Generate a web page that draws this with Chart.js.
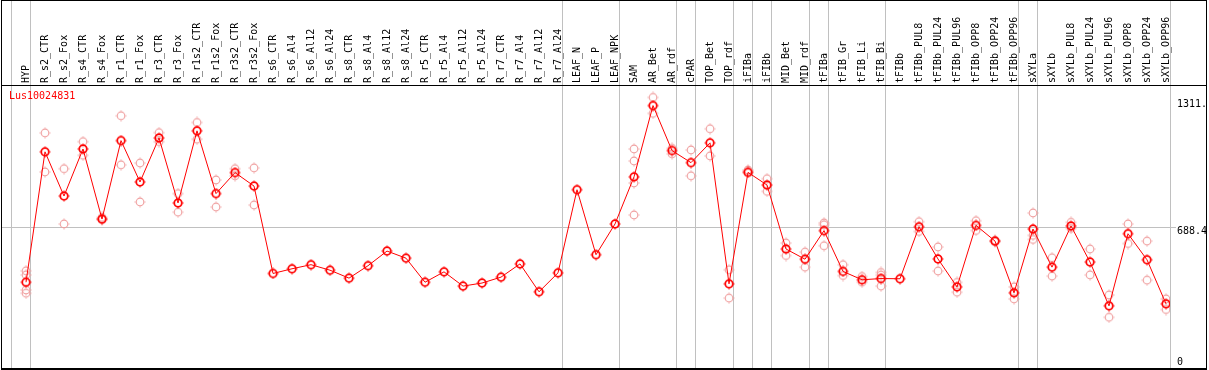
<!DOCTYPE html>
<html>
<head>
<meta charset="utf-8">
<script src="https://cdn.jsdelivr.net/npm/chart.js@4.4.0/dist/chart.umd.min.js"></script>
<style>
  html, body { margin: 0; padding: 0; background: #fff; }
  canvas { display: block; }
</style>
</head>
<body>
<canvas id="chart" width="1209" height="370"></canvas>
<script>
const geneName = 'Lus10024831';

const categories = [
  'HYP', 'R_s2_CTR', 'R_s2_Fox', 'R_s4_CTR', 'R_s4_Fox', 'R_r1_CTR', 'R_r1_Fox', 'R_r3_CTR', 'R_r3_Fox',
  'R_r1s2_CTR', 'R_r1s2_Fox', 'R_r3s2_CTR', 'R_r3s2_Fox', 'R_s6_CTR', 'R_s6_Al4', 'R_s6_Al12', 'R_s6_Al24',
  'R_s8_CTR', 'R_s8_Al4', 'R_s8_Al12', 'R_s8_Al24', 'R_r5_CTR', 'R_r5_Al4', 'R_r5_Al12', 'R_r5_Al24',
  'R_r7_CTR', 'R_r7_Al4', 'R_r7_Al12', 'R_r7_Al24', 'LEAF_N', 'LEAF_P', 'LEAF_NPK', 'SAM', 'AR_Bet', 'AR_rdf',
  'cPAR', 'TOP_Bet', 'TOP_rdf', 'iFIBa', 'iFIBb', 'MID_Bet', 'MID_rdf', 'tFIBa', 'tFIB_Gr', 'tFIB_Li', 'tFIB_Bi',
  'tFIBb', 'tFIBb_PUL8', 'tFIBb_PUL24', 'tFIBb_PUL96', 'tFIBb_OPP8', 'tFIBb_OPP24', 'tFIBb_OPP96', 'sXYLa',
  'sXYLb', 'sXYLb_PUL8', 'sXYLb_PUL24', 'sXYLb_PUL96', 'sXYLb_OPP8', 'sXYLb_OPP24', 'sXYLb_OPP96'
];

const meanValues = [
  421, 1061, 844, 1075, 731, 1116, 913, 1129, 810, 1164, 856, 959, 893, 464, 487, 507, 480,
  441, 502, 574, 539, 421, 472, 402, 417, 446, 511, 374, 467, 875, 556, 707, 938, 1288, 1067,
  1008, 1105, 413, 960, 898, 584, 534, 674, 474, 433, 439, 438, 693, 535, 398, 700, 623, 369,
  682, 495, 697, 520, 305, 659, 531, 315
];

const replicateValues = [
  [477, 457, 383, 367], [1154, 962], [978, 707], [1111, 1044], [739, 728], [1238, 997], [1006, 815],
  [1155, 1111], [856, 765], [1205, 1123], [923, 790], [978, 943], [982, 800],
  [], [], [], [], [], [], [], [], [], [], [], [], [], [], [], [], [], [], [],
  [1075, 1016, 908, 751], [1328, 1250], [1078, 1051], [1070, 943], [1174, 1041], [482, 343],
  [972, 965], [929, 867], [613, 552], [569, 495], [712, 703, 600], [507, 454], [449, 421],
  [469, 456, 402], [], [718, 670], [594, 476], [420, 372], [723, 675], [626, 620], [398, 339],
  [761, 651, 631], [541, 451], [715, 685], [584, 457], [358, 249], [707, 611], [623, 431], [339, 287]
];

// grey separators are drawn after these samples ('' = before the first one)
const groupBreaks = ['', 'HYP', 'R_r7_Al24', 'LEAF_NPK', 'AR_rdf', 'cPAR', 'TOP_rdf', 'iFIBa', 'iFIBb',
  'MID_rdf', 'tFIBa', 'tFIB_Bi', 'tFIBb_OPP96', 'sXYLa', 'sXYLb_OPP96'];

const yTickValues = [0, 688.4, 1311];
const yTickLabels = ['0', '688.4', '1311.'];

const FONT = '10px "DejaVu Sans Mono", monospace';

// circle with tiny tick marks, like the original plot symbol
function makeMarker(color, lw) {
  const c = document.createElement('canvas');
  c.width = 12; c.height = 12;
  const g = c.getContext('2d');
  g.strokeStyle = color;
  g.lineWidth = lw;
  g.beginPath();
  g.arc(6, 6, 3.8, 0, Math.PI * 2);
  g.stroke();
  g.fillStyle = color;
  g.fillRect(5.5, 0.5, 1, 1);
  g.fillRect(5.5, 10.5, 1, 1);
  g.fillRect(0.5, 5.5, 1, 1);
  g.fillRect(10.5, 5.5, 1, 1);
  return c;
}

const meanPoints = meanValues.map((v, i) => ({ x: i, y: v }));
const replicatePoints = replicateValues.flatMap((reps, i) => reps.map(v => ({ x: i, y: v })));

const framePlugin = {
  id: 'frame',
  beforeDatasetsDraw(chart) {
    const { ctx, scales: { x } } = chart;
    ctx.save();
    ctx.strokeStyle = '#c0c0c0';
    ctx.lineWidth = 1;
    ctx.beginPath();
    groupBreaks.forEach(name => {
      const idx = categories.indexOf(name);
      const px = Math.round(x.getPixelForValue(idx + 4 / 19)) + 0.5;
      ctx.moveTo(px, 0);
      ctx.lineTo(px, chart.chartArea.bottom);
    });
    ctx.stroke();
    ctx.restore();
  },
  afterDraw(chart) {
    const { ctx, scales: { y } } = chart;
    ctx.save();
    ctx.fillStyle = '#000';
    ctx.fillRect(1, 0, 1, 370);
    ctx.fillRect(1206, 0, 1, 370);
    ctx.fillRect(1, 0, 1206, 1);
    ctx.fillRect(1, 85, 1206, 1);
    ctx.fillRect(1, 368, 1206, 2);

    ctx.font = FONT;
    ctx.textAlign = 'left';
    yTickValues.forEach((v, i) => {
      const py = y.getPixelForValue(v);
      if (v === 0) {
        ctx.textBaseline = 'alphabetic';
        ctx.fillText(yTickLabels[i], 1177, py - 3);
      } else {
        ctx.textBaseline = 'top';
        ctx.fillText(yTickLabels[i], 1177, py - 1);
      }
    });

    ctx.fillStyle = '#ff0000';
    ctx.textBaseline = 'top';
    ctx.fillText(chart.data.datasets[0].label, 9, 91);
    ctx.restore();
  }
};

new Chart(document.getElementById('chart'), {
  type: 'line',
  data: {
    datasets: [
      {
        label: geneName,
        data: meanPoints,
        borderColor: '#ff0000',
        borderWidth: 1,
        tension: 0,
        pointStyle: makeMarker('#ff0000', 1.8),
        pointRadius: 6,
        order: 0
      },
      {
        label: 'replicates',
        data: replicatePoints,
        showLine: false,
        pointStyle: makeMarker('#f0a0a0', 1.2),
        pointRadius: 6,
        order: 1
      }
    ]
  },
  options: {
    responsive: false,
    animation: false,
    layout: { autoPadding: false, padding: { left: 2, right: 0, top: 0, bottom: 2 } },
    plugins: { legend: { display: false }, tooltip: { enabled: false } },
    scales: {
      x: {
        type: 'linear',
        position: 'top',
        min: -1.2632,
        max: 60.2105,
        afterBuildTicks: (scale) => { scale.ticks = categories.map((c, i) => ({ value: i })); },
        afterFit: (scale) => {
          scale.height = 85;
          scale.paddingLeft = 0;
          scale.paddingRight = 0;
        },
        ticks: {
          autoSkip: false,
          minRotation: 90,
          maxRotation: 90,
          padding: 2,
          labelOffset: 12,
          color: '#000',
          font: { family: '"DejaVu Sans Mono", monospace', size: 10 },
          callback: (v) => categories[v]
        },
        grid: { display: false, drawTicks: false },
        border: { display: false }
      },
      y: {
        type: 'linear',
        position: 'right',
        min: 0,
        max: 1389,
        afterBuildTicks: (scale) => { scale.ticks = yTickValues.map(v => ({ value: v })); },
        afterFit: (scale) => {
          scale.width = 39;
          scale.paddingTop = 0;
          scale.paddingBottom = 0;
        },
        ticks: { display: false },
        grid: {
          color: (ctx) => ctx.tick && ctx.tick.value === 688.4 ? '#c0c0c0' : 'rgba(0,0,0,0)',
          drawTicks: true,
          tickLength: 6
        },
        border: { display: false }
      }
    }
  },
  plugins: [framePlugin]
});
</script>
</body>
</html>
